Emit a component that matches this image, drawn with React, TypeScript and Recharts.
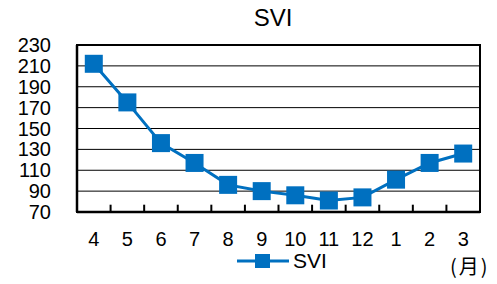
import React from 'react';
import { LineChart, Line, XAxis, YAxis, CartesianGrid, Legend, ReferenceArea, ReferenceLine } from 'recharts';

const months = ['4', '5', '6', '7', '8', '9', '10', '11', '12', '1', '2', '3'];
const sviValues = [212, 175, 136, 117, 96, 90, 86, 81, 84, 101, 117, 126];
const yTicks = [70, 90, 110, 130, 150, 170, 190, 210, 230];
const boundaries = [1, 2, 3, 4, 5, 6, 7, 8, 9, 10, 11];
const seriesName = 'SVI';
const titleText = 'SVI';
const unitText = '(月)';

const data = months.map((m, i) => ({ month: m, svi: sviValues[i], idx: i + 0.5 }));

const BLUE = '#0070C0';
const FONT = '"Liberation Sans", Arial, sans-serif';
const CJK = '"Noto Sans CJK JP", sans-serif';
const Y_MIN = 70;
const Y_MAX = 230;
const TICK_LEN = 7; // in value units

const SquareDot = (props: any) => {
  const { cx, cy } = props;
  if (cx == null || cy == null) return null;
  const s = 18;
  return <rect x={cx - s / 2} y={cy - s / 2} width={s} height={s} fill={BLUE} />;
};

const LegendContent = () => (
  <div style={{ display: 'flex', alignItems: 'center', paddingLeft: 237, height: 24 }}>
    <svg width={52} height={20}>
      <line x1={0} x2={52} y1={10} y2={10} stroke={BLUE} strokeWidth={3} />
      <rect x={18} y={3} width={15} height={14} fill={BLUE} />
    </svg>
    <span style={{ marginLeft: 4, fontSize: 21, fontFamily: FONT, color: '#000', lineHeight: '24px' }}>
      {seriesName}
    </span>
  </div>
);

export default function App() {
  return (
    <div style={{ position: 'absolute', left: 0, top: 0, width: 497, height: 284, background: '#fff' }}>
      <LineChart width={497} height={284} data={data} margin={{ top: 45, right: 17, bottom: 11, left: 0 }}>
        <XAxis
          xAxisId="grid"
          type="number"
          dataKey="idx"
          domain={[0, 12]}
          axisLine={false}
          tickLine={false}
          tick={false}
          height={0}
          allowDataOverflow
        />
        <XAxis
          xAxisId="cat"
          dataKey="month"
          scale="band"
          interval={0}
          height={37}
          tickLine={false}
          tickSize={0}
          tickMargin={20}
          axisLine={{ stroke: '#000', strokeWidth: 2.5 }}
          tick={{ fill: '#000', fontSize: 20, fontFamily: FONT }}
        />
        <YAxis
          domain={[Y_MIN, Y_MAX]}
          ticks={yTicks}
          interval={0}
          width={77}
          tickLine={false}
          tickSize={0}
          tickMargin={26}
          axisLine={{ stroke: '#000', strokeWidth: 2.5 }}
          tick={{ fill: '#000', fontSize: 20, fontFamily: FONT }}
          allowDataOverflow
        />
        <CartesianGrid xAxisId="cat" vertical={false} stroke="#000" strokeWidth={1} />
        <ReferenceArea
          xAxisId="grid"
          x1={0}
          x2={12}
          y1={Y_MIN}
          y2={Y_MAX}
          fill="none"
          stroke="#000"
          strokeWidth={2}
          ifOverflow="visible"
        />
        {boundaries.map((b) => (
          <ReferenceLine
            key={b}
            xAxisId="grid"
            segment={[
              { x: b, y: Y_MIN },
              { x: b, y: Y_MIN + TICK_LEN },
            ]}
            stroke="#000"
            strokeWidth={2}
            ifOverflow="visible"
          />
        ))}
        <Legend verticalAlign="bottom" content={<LegendContent />} />
        <Line
          xAxisId="cat"
          dataKey="svi"
          name={seriesName}
          stroke={BLUE}
          strokeWidth={3}
          dot={<SquareDot />}
          activeDot={false}
          isAnimationActive={false}
        />
      </LineChart>
      <div
        style={{
          position: 'absolute',
          left: 0,
          width: 546,
          top: 4,
          textAlign: 'center',
          fontSize: 24,
          fontFamily: FONT,
          color: '#000',
        }}
      >
        {titleText}
      </div>
      <div
        style={{
          position: 'absolute',
          left: 450,
          top: 251,
          fontSize: 20,
          letterSpacing: 2,
          fontFamily: CJK,
          color: '#000',
        }}
      >
        {unitText}
      </div>
    </div>
  );
}
